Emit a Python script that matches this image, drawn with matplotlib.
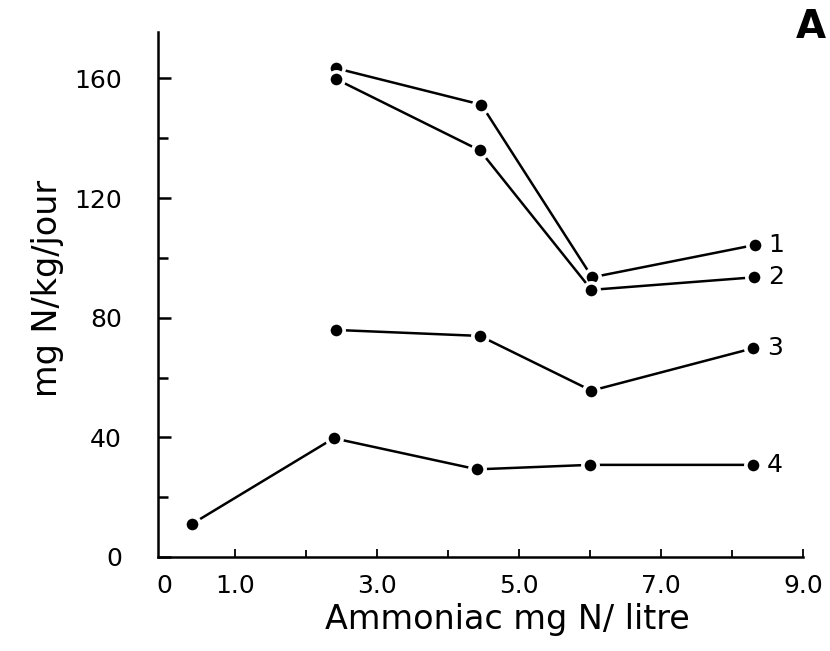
import matplotlib
matplotlib.use("Agg")
import matplotlib.pyplot as plt

# ---- data ----
x_s1 = [2.42, 4.47, 6.03, 8.32]
y_s1 = [163.4, 151.2, 93.5, 104.3]
x_s2 = [2.42, 4.45, 6.02, 8.31]
y_s2 = [159.8, 135.9, 89.3, 93.5]
x_s3 = [2.42, 4.45, 6.02, 8.30]
y_s3 = [75.9, 73.9, 55.6, 69.8]
x_s4 = [0.39, 2.39, 4.41, 6.00, 8.30]
y_s4 = [11.0, 39.7, 29.3, 30.8, 30.8]
series_labels = ["1", "2", "3", "4"]

xtick_major = [0, 1, 3, 5, 7, 9]
xtick_labels = ["0", "1.0", "3.0", "5.0", "7.0", "9.0"]
xtick_minor = [2, 4, 6, 8]
ytick_major = [0, 40, 80, 120, 160]
ytick_labels = ["0", "40", "80", "120", "160"]
ytick_minor = [20, 60, 100, 140]

xlabel = "Ammoniac mg N/ litre"
ylabel = "mg N/kg/jour"
panel = "A"

plt.rcParams['font.family'] = ['DejaVu Sans']

W, H = 830, 651
fig = plt.figure(figsize=(W / 100, H / 100), dpi=100)
ax = fig.add_axes([158 / W, (H - 557) / H, (803 - 158) / W, (557 - 32) / H])

xs = [x_s1, x_s2, x_s3, x_s4]
ys = [y_s1, y_s2, y_s3, y_s4]
for x, y, lab in zip(xs, ys, series_labels):
    ax.plot(x, y, '-', color='black', lw=1.8, marker='o', ms=11, solid_capstyle='butt',
            mfc='black', mec='white', mew=2.6, zorder=3, clip_on=False)
    ax.annotate(lab, xy=(x[-1], y[-1]), xytext=(10, 0), textcoords='offset points',
                ha='left', va='center', fontsize=18)

ax.set_xlim(-0.085, 9.0)
ax.set_ylim(0, 175.5)

for s in ['top', 'right']:
    ax.spines[s].set_visible(False)
for s in ['left', 'bottom']:
    ax.spines[s].set_linewidth(1.8)

ax.set_xticks(xtick_major)
ax.set_xticklabels(xtick_labels, fontsize=18)
ax.set_xticks(xtick_minor, minor=True)
ax.set_yticks(ytick_major)
ax.set_yticklabels(ytick_labels, fontsize=18)
ax.set_yticks(ytick_minor, minor=True)

ax.tick_params(axis='x', which='major', direction='in', length=6, width=1.3, pad=12)
ax.tick_params(axis='x', which='minor', direction='in', length=5, width=1.3)
ax.tick_params(axis='y', which='major', direction='in', length=9, width=1.8, pad=26)
ax.tick_params(axis='y', which='minor', direction='in', length=7, width=1.8)
ax.xaxis.get_major_ticks()[0].tick1line.set_visible(False)

ax.set_xlabel(xlabel, fontsize=24)
ax.xaxis.set_label_coords((507 - 158) / 645, -0.088)
ax.set_ylabel(ylabel, fontsize=24)
ax.yaxis.set_label_coords(-0.146, (557 - 288) / 525)

fig.text(811 / W, 1 - 27 / H, panel, fontsize=28, fontweight='bold', ha='center', va='center')

fig.savefig("out.png", dpi=100)
